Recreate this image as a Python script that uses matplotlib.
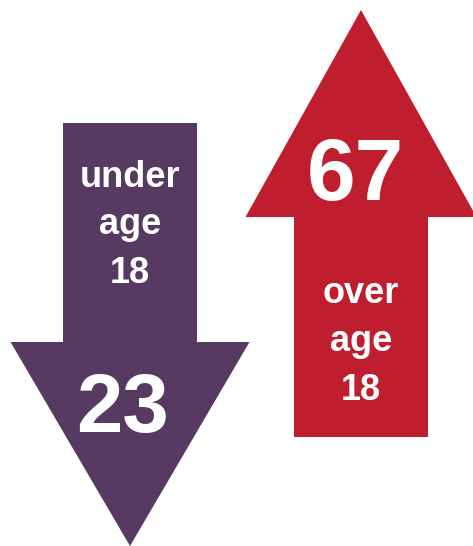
import matplotlib
matplotlib.use("Agg")
import matplotlib.pyplot as plt
from matplotlib.patches import FancyArrow

# Data
groups = ["under\nage\n18", "over\nage\n18"]
values = [23, 67]
directions = ["down", "up"]
colors = ["#563a61", "#be1e2e"]

W, H = 473, 546
fig = plt.figure(figsize=(W / 100, H / 100), dpi=100)
ax = fig.add_axes([0, 0, 1, 1])
ax.set_xlim(0, W)
ax.set_ylim(H, 0)
ax.axis("off")

# Layout (pixels)
arrow_specs = [
    dict(cx=130, start=123, end=546, width=134, head_w=239, head_l=204,
         label_y=[187, 234, 283], value_y=432, value_x=122, value_size=60),
    dict(cx=361, start=437, end=10, width=134, head_w=231, head_l=207,
         label_y=[303, 351, 400], value_y=200, value_x=355, value_size=63),
]

font = "Liberation Sans"
for grp, val, d, col, sp in zip(groups, values, directions, colors, arrow_specs):
    ax.add_patch(FancyArrow(sp["cx"], sp["start"], 0, sp["end"] - sp["start"],
                            width=sp["width"], head_width=sp["head_w"],
                            head_length=sp["head_l"], length_includes_head=True,
                            color=col, lw=0))
    for line, y in zip(grp.split("\n"), sp["label_y"]):
        ax.text(sp["cx"], y, line, ha="center", va="baseline", color="white",
                fontsize=26, fontweight="bold", family=font)
    ax.text(sp["value_x"], sp["value_y"], str(val), ha="center", va="baseline",
            color="white", fontsize=sp["value_size"], fontweight="bold", family=font)

fig.savefig("out.png", dpi=100)
